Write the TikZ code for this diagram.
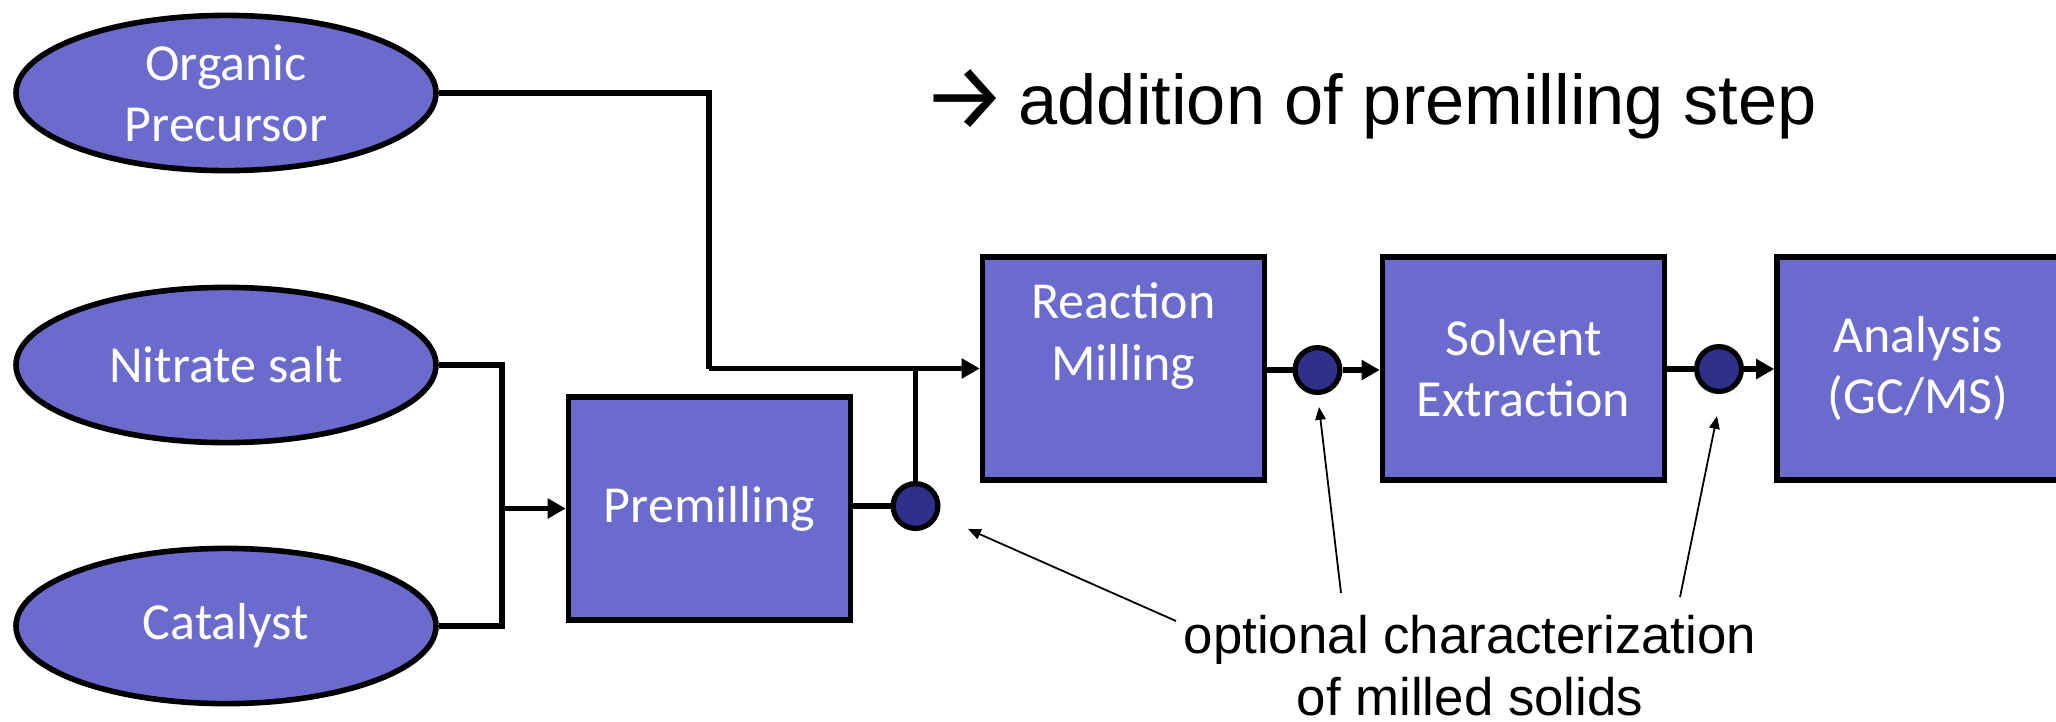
\documentclass[tikz,border=0pt]{standalone}
\usepackage{fontspec}
\setmainfont{Liberation Sans}
\newfontfamily\boxfont{Carlito}
\newfontfamily\arrowfont{Fira Sans}
\usetikzlibrary{arrows.meta,shapes.geometric}

\definecolor{stepfill}{RGB}{107,107,205}
\definecolor{dotfill}{RGB}{46,48,137}

\tikzset{
  source/.style={ellipse, draw=black, line width=1.4pt, fill=stepfill,
    minimum width=105pt, minimum height=38.8pt, inner sep=0pt,
    text=white, font=\boxfont\fontsize{13}{15.3}\selectfont, align=center},
  stepbox/.style={rectangle, draw=black, line width=1.4pt, fill=stepfill,
    minimum width=70.5pt, minimum height=55.7pt, inner sep=0pt},
  steptext/.style={text=white, font=\boxfont\fontsize{13}{15.3}\selectfont,
    align=center, inner sep=0pt},
  probe/.style={circle, draw=black, line width=1.3pt, fill=dotfill,
    minimum size=11.2pt, inner sep=0pt},
  flow/.style={line width=1.4pt, line join=miter},
  flowarrow/.style={flow, -{Triangle[length=4.5pt,width=4.8pt]}},
  callout/.style={line width=0.45pt, -{Triangle[length=3.2pt,width=2.6pt]}},
}

\begin{document}
\begin{tikzpicture}[x=0.25pt, y=-0.25pt]
  \useasboundingbox (0,0) rectangle (2056,721);
  \clip (0,0) rectangle (2056,721);

  % raw materials
  \node[source] (org) at (226,93)  {Organic\\Precursor};
  \node[source] (nit) at (226,365) {Nitrate salt};
  \node[source] (cat) at (226,626) {Catalyst};

  % process steps
  \node[stepbox] (pre) at (709.5,508.5) {};
  \node[steptext] (pret) at (709.5,508.5) {Premilling};
  \node[stepbox] (rm) at (1123.5,368.5) {};
  \node[steptext] (rmt) at (1123.5,336) {Reaction\\Milling};
  \node[stepbox] (se) at (1523.5,368.5) {};
  \node[steptext] (set) at (1523.5,368.5) {Solvent\\Extraction};
  \node[stepbox] (an) at (1918,368.5) {};
  \node[steptext] (ant) at (1918,368.5) {Analysis\\(GC/MS)};

  % sampling points
  \node[probe] (p1) at (915.5,506) {};
  \node[probe] (p2) at (1317.5,370) {};
  \node[probe] (p3) at (1719,369) {};

  % junctions
  \coordinate (mix) at (502,508.5);
  \coordinate (jn) at (709,368.5);

  % connectors
  \draw[flow] (nit.east) -| (mix);
  \draw[flow] (cat.east) -| (mix);
  \draw[flowarrow] (mix) -- (pre.west);
  \draw[flow] (org.east) -| (jn);
  \draw[flowarrow] (jn) -- (rm.west);
  \draw[flow] (pre.east |- p1) -- (p1.west);
  \draw[flow] (p1.north) -- (p1.north |- jn);
  \draw[flow] (rm.east |- p2) -- (p2.west);
  \draw[flowarrow] (p2.east) -- (se.west |- p2);
  \draw[flow] (se.east |- p3) -- (p3.west);
  \draw[flowarrow] (p3.east) -- (an.west |- p3);

  % heading
  \node[anchor=base west, inner sep=0pt, font=\fontsize{17.6}{20}\selectfont]
    (head) at (922,124)
    {\raisebox{-1.4pt}{\arrowfont\fontsize{23.5}{25}\selectfont →}\hspace{2.8pt}addition of premilling step};

  % note with callouts
  \node[anchor=base, inner sep=0pt, font=\fontsize{13.2}{15.5}\selectfont]
    (note1) at (1470,653) {optional characterization};
  \node[anchor=base, inner sep=0pt, font=\fontsize{13.2}{15.5}\selectfont]
    (note2) at (1470,715) {of milled solids};
  \coordinate (t1) at (1176,621);
  \coordinate (t2) at (1341,593);
  \coordinate (t3) at (1680,597);
  \coordinate (h1) at (968,529);
  \coordinate (h2) at (1319,407);
  \coordinate (h3) at (1717,416);
  \draw[callout] (t1) -- (h1);
  \draw[callout] (t2) -- (h2);
  \draw[callout] (t3) -- (h3);
\end{tikzpicture}
\end{document}
